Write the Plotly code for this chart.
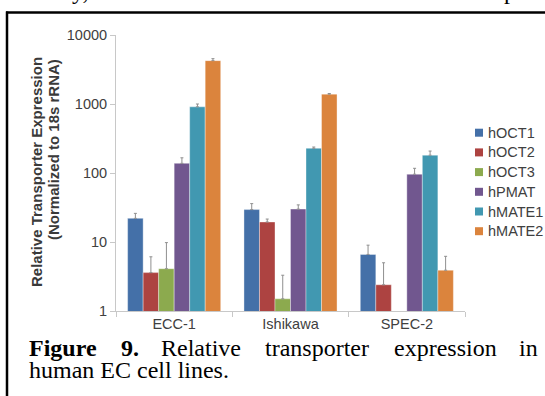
import plotly.graph_objects as go

# Cell lines (x categories) and transporter series
cell_lines = ["ECC-1", "Ishikawa", "SPEC-2"]
series_names = ["hOCT1", "hOCT2", "hOCT3", "hPMAT", "hMATE1", "hMATE2"]
series_colors = ["#4470A8", "#AD4341", "#8CAA4E", "#71578F", "#4198B1", "#DB843D"]

# Relative expression (normalized to 18s rRNA)
hOCT1 = [22.0, 29.5, 6.6]
hOCT2 = [3.6, 19.5, 2.4]
hOCT3 = [4.1, 1.5, None]
hPMAT = [138.0, 30.0, 96.0]
hMATE1 = [910.0, 228.0, 181.0]
hMATE2 = [4250.0, 1390.0, 3.9]

# Upper error (SD) for each bar
hOCT1_err = [4.0, 6.5, 2.4]
hOCT2_err = [2.5, 2.0, 2.6]
hOCT3_err = [5.7, 1.8, None]
hPMAT_err = [28.0, 4.5, 21.0]
hMATE1_err = [90.0, 10.0, 27.0]
hMATE2_err = [290.0, 30.0, 2.3]

y_tick_vals = [1, 10, 100, 1000, 10000]
y_tick_text = ["1", "10", "100", "1000", "10000"]

values = [hOCT1, hOCT2, hOCT3, hPMAT, hMATE1, hMATE2]
errors = [hOCT1_err, hOCT2_err, hOCT3_err, hPMAT_err, hMATE1_err, hMATE2_err]

W, H = 545, 396
L, R, T, B = 116, 80, 35, 85
PW, PH = W - L - R, H - T - B


def px(x):
    return (x - L) / PW


def py(y):
    return (H - B - y) / PH


SANS = "Liberation Sans, Arial, sans-serif"
SERIF = "Liberation Serif, Times New Roman, serif"

fig = go.Figure()
for name, color, vals, errs in zip(series_names, series_colors, values, errors):
    fig.add_trace(go.Bar(
        name=name,
        x=cell_lines,
        y=vals,
        marker=dict(color=color, line=dict(color="rgba(255,255,255,0.45)", width=0.8)),
        error_y=dict(type="data", symmetric=False,
                     array=[e if e is not None else 0 for e in errs],
                     arrayminus=[0] * len(errs),
                     color="#8F8F8F", thickness=1, width=1.5),
        showlegend=False,
    ))

shapes = []
annotations = []

# Legend: small squares with series names
for i, (name, color) in enumerate(zip(series_names, series_colors)):
    yc = 132.7 + i * 19.7
    shapes.append(dict(type="rect", xref="paper", yref="paper",
                       x0=px(475), x1=px(483), y0=py(yc - 4), y1=py(yc + 4),
                       fillcolor=color, line=dict(width=0)))
    annotations.append(dict(text=name, xref="paper", yref="paper",
                            x=px(486), y=py(yc), xanchor="left", yanchor="middle",
                            showarrow=False, font=dict(family=SANS, size=14.5, color="#404040")))

# Y-axis title, two rotated lines
annotations.append(dict(text="<b>Relative Transporter Expression</b>", xref="paper", yref="paper",
                        x=px(36), y=py(172), textangle=-90, xanchor="center", yanchor="middle",
                        showarrow=False, font=dict(family=SANS, size=15, color="#3A3A3A")))
annotations.append(dict(text="<b>(Normalized to 18s rRNA)</b>", xref="paper", yref="paper",
                        x=px(53), y=py(150), textangle=-90, xanchor="center", yanchor="middle",
                        showarrow=False, font=dict(family=SANS, size=15, color="#3A3A3A")))

# Caption, first line justified word by word
cap_size = 24
line1 = [("<b>Figure</b>", 27, "left"), ("<b>9.</b>", 119, "left"), ("Relative", 159, "left"),
         ("transporter", 263, "left"), ("expression", 392, "left"), ("in", 540, "right")]
for word, xw, anchor in line1:
    annotations.append(dict(text=word, xref="paper", yref="paper", x=px(xw), y=py(348),
                            xanchor=anchor, yanchor="middle", showarrow=False,
                            font=dict(family=SERIF, size=cap_size, color="black")))
annotations.append(dict(text="human EC cell lines.", xref="paper", yref="paper", x=px(27), y=py(369.5),
                        xanchor="left", yanchor="middle", showarrow=False,
                        font=dict(family=SERIF, size=cap_size, color="black")))

# Tail of the preceding text line above the frame
for word, xw in [("y,", 80), ("p", 510)]:
    annotations.append(dict(text=word, xref="paper", yref="paper", x=px(xw), y=py(-9),
                            xanchor="center", yanchor="middle", showarrow=False,
                            font=dict(family=SERIF, size=cap_size, color="black")))

# Frame around the figure
shapes.append(dict(type="line", xref="paper", yref="paper", x0=px(7), x1=px(7),
                   y0=py(11.5), y1=py(400), line=dict(color="black", width=2.5)))
shapes.append(dict(type="line", xref="paper", yref="paper", x0=px(6), x1=px(560),
                   y0=py(12.5), y1=py(12.5), line=dict(color="black", width=2.5)))

fig.update_layout(
    width=W, height=H,
    margin=dict(l=L, r=R, t=T, b=B, pad=0),
    paper_bgcolor="white", plot_bgcolor="white",
    barmode="group", bargap=0.2, bargroupgap=0,
    font=dict(family=SANS, size=14, color="#404040"),
    shapes=shapes, annotations=annotations,
    xaxis=dict(type="category", showline=True, linecolor="#C8C8C8", linewidth=1,
               ticks="outside", tickson="boundaries", ticklen=5, tickcolor="#C8C8C8",
               showgrid=False, tickfont=dict(family=SANS, size=14.5, color="#404040")),
    yaxis=dict(type="log", range=[0, 4], tickvals=y_tick_vals, ticktext=y_tick_text,
               showline=True, linecolor="#C8C8C8", linewidth=1, ticks="outside", ticklen=5,
               tickcolor="#C8C8C8", showgrid=False, zeroline=False,
               tickfont=dict(family=SANS, size=14.5, color="#404040")),
)

fig.write_html("out.html")
